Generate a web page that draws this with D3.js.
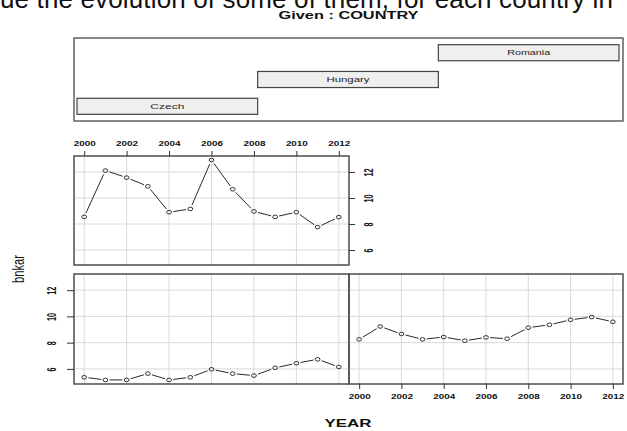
<!DOCTYPE html>
<html>
<head>
<meta charset="utf-8">
<script src="https://cdn.jsdelivr.net/npm/d3@7"></script>
<style>
  html, body { margin: 0; padding: 0; background: #fff; }
  svg { display: block; }
  text { font-family: "Liberation Sans", Arial, sans-serif; }
</style>
</head>
<body>
<svg id="chart" width="627" height="431"></svg>
<script>
// Conditioning plot of bnkar against YEAR, given COUNTRY
const years = [2000, 2001, 2002, 2003, 2004, 2005, 2006, 2007, 2008, 2009, 2010, 2011, 2012];
const countries = ["Czech", "Hungary", "Romania"];
const czech   = [5.36, 5.16, 5.16, 5.64, 5.16, 5.36, 5.97, 5.64, 5.49, 6.08, 6.43, 6.73, 6.15];
const hungary = [8.25, 9.23, 8.66, 8.25, 8.43, 8.15, 8.40, 8.30, 9.14, 9.36, 9.74, 9.95, 9.59];
const romania = [8.55, 12.11, 11.57, 10.90, 8.91, 9.16, 12.92, 10.67, 8.97, 8.55, 8.91, 7.76, 8.53];
const xTicks = [2000, 2002, 2004, 2006, 2008, 2010, 2012];
const yTicks = [6, 8, 10, 12];

const series = [czech, hungary, romania];

const svg = d3.select("#chart");

// ---- page caption line (partly above the viewport) ----
svg.append("text")
  .attr("x", 0).attr("y", 7.5)
  .attr("font-size", 26).attr("fill", "#111")
  .attr("textLength", 613).attr("lengthAdjust", "spacing")
  .text("ue the evolution of some of them, for each country in");

// ---- layout ----
const colX = [[74, 349], [349, 623]];
const rowY = [[274, 384], [156, 265]];       // bottom row first, as coplot fills
const cells = [ {c: 0, r: 0}, {c: 1, r: 0}, {c: 0, r: 1} ];
const given = {x0: 74, x1: 623, y0: 38, y1: 121};

// shared scales domains (R-style 4% extension)
const allVals = series.flat();
const [vmin, vmax] = d3.extent(allVals);
const vpad = (vmax - vmin) * 0.04;
const [ymin0, ymax0] = d3.extent(years);
const xpad = (ymax0 - ymin0) * 0.04;

// ---- "Given" panel ----
svg.append("text")
  .attr("x", (given.x0 + given.x1) / 2).attr("y", 19)
  .attr("text-anchor", "middle").attr("font-size", 10).attr("font-weight", "bold")
  .attr("fill", "#111")
  .attr("textLength", 140).attr("lengthAdjust", "spacingAndGlyphs")
  .text("Given : COUNTRY");

svg.append("rect")
  .attr("x", given.x0).attr("y", given.y0)
  .attr("width", given.x1 - given.x0).attr("height", given.y1 - given.y0)
  .attr("fill", "none").attr("stroke", "#555").attr("stroke-width", 1.4);

const gx = d3.scaleLinear().domain([0.5, countries.length + 0.5]).range([77, 619]);
const gy = d3.scaleBand().domain(countries.slice().reverse()).range([given.y0 + 4, given.y1 - 4]).paddingInner(0.4).paddingOuter(0.1);
const labelWidths = {Czech: 34, Hungary: 43, Romania: 43};

const bars = svg.append("g").selectAll("g").data(countries).join("g");
bars.append("rect")
  .attr("x", (d, i) => gx(i + 0.5))
  .attr("width", (d, i) => gx(i + 1.5) - gx(i + 0.5))
  .attr("y", d => gy(d))
  .attr("height", gy.bandwidth())
  .attr("fill", "#efefef").attr("stroke", "#444").attr("stroke-width", 1.2);
bars.append("text")
  .attr("x", (d, i) => gx(i + 1))
  .attr("y", d => gy(d) + gy.bandwidth() / 2 + 2.6)
  .attr("text-anchor", "middle").attr("font-size", 7.2).attr("fill", "#222")
  .attr("textLength", d => labelWidths[d]).attr("lengthAdjust", "spacingAndGlyphs")
  .text(d => d);

// ---- panels ----
function styleXAxis(g) {
  g.select(".domain").remove();
  g.selectAll(".tick line").attr("stroke", "#333").attr("stroke-width", 1);
  g.selectAll(".tick text")
    .attr("font-size", 7).attr("font-weight", "bold").attr("fill", "#111")
    .attr("font-family", "'Liberation Sans', Arial, sans-serif")
    .attr("textLength", 22).attr("lengthAdjust", "spacingAndGlyphs");
}
function styleYAxis(g, cx) {
  g.select(".domain").remove();
  g.selectAll(".tick line").attr("stroke", "#333").attr("stroke-width", 1);
  g.selectAll(".tick text")
    .attr("x", null).attr("dy", null)
    .attr("text-anchor", "middle").attr("dominant-baseline", "central")
    .attr("font-size", 7.2).attr("font-weight", "bold").attr("fill", "#111")
    .attr("font-family", "'Liberation Sans', Arial, sans-serif")
    .attr("transform", `translate(${cx},0) scale(1.8,1) rotate(-90)`);
}

cells.forEach((cell, i) => {
  const [x0, x1] = colX[cell.c];
  const [y0, y1] = rowY[cell.r];
  const x = d3.scaleLinear().domain([ymin0 - xpad, ymax0 + xpad]).range([x0, x1]);
  const y = d3.scaleLinear().domain([vmin - vpad, vmax + vpad]).range([y1, y0]);
  const vals = series[i];
  const g = svg.append("g");

  // grid
  g.append("g").selectAll("line").data(xTicks).join("line")
    .attr("x1", d => x(d)).attr("x2", d => x(d)).attr("y1", y0).attr("y2", y1)
    .attr("stroke", "#d9d9d9").attr("stroke-width", 1);
  g.append("g").selectAll("line").data(yTicks).join("line")
    .attr("x1", x0).attr("x2", x1).attr("y1", d => y(d)).attr("y2", d => y(d))
    .attr("stroke", "#d9d9d9").attr("stroke-width", 1);

  // line segments with gaps around the points (type = "b")
  const pts = years.map((yr, k) => [x(yr), y(vals[k])]);
  const gap = 4.2;
  const segs = [];
  for (let k = 0; k < pts.length - 1; k++) {
    const [ax, ay] = pts[k], [bx, by] = pts[k + 1];
    const dx = bx - ax, dy = by - ay, len = Math.hypot(dx, dy);
    if (len > 2 * gap) {
      const ux = dx / len, uy = dy / len;
      segs.push([ax + ux * gap, ay + uy * gap, bx - ux * gap, by - uy * gap]);
    }
  }
  g.append("g").selectAll("line").data(segs).join("line")
    .attr("x1", d => d[0]).attr("y1", d => d[1]).attr("x2", d => d[2]).attr("y2", d => d[3])
    .attr("stroke", "#2a2a2a").attr("stroke-width", 1);

  g.append("g").selectAll("ellipse").data(vals).join("ellipse")
    .attr("cx", (d, k) => x(years[k])).attr("cy", d => y(d))
    .attr("rx", 2.4).attr("ry", 1.8)
    .attr("fill", "none").attr("stroke", "#333").attr("stroke-width", 1);

  // frame
  g.append("rect")
    .attr("x", x0).attr("y", y0).attr("width", x1 - x0).attr("height", y1 - y0)
    .attr("fill", "none").attr("stroke", "#4d4d4d").attr("stroke-width", 1.5);

  // axes
  const fmt = d3.format("d");
  if (cell.r === 1) {
    g.append("g").attr("transform", `translate(0,${y0})`)
      .call(d3.axisTop(x).tickValues(xTicks).tickFormat(fmt).tickSize(5).tickPadding(5))
      .call(styleXAxis);
    g.append("g").attr("transform", `translate(${x1},0)`)
      .call(d3.axisRight(y).tickValues(yTicks).tickSize(6))
      .call(a => styleYAxis(a, 20));
  } else if (cell.c === 1) {
    g.append("g").attr("transform", `translate(0,${y1})`)
      .call(d3.axisBottom(x).tickValues(xTicks).tickFormat(fmt).tickSize(5).tickPadding(5))
      .call(styleXAxis);
  } else {
    g.append("g").attr("transform", `translate(${x0},0)`)
      .call(d3.axisLeft(y).tickValues(yTicks).tickSize(7))
      .call(a => styleYAxis(a, -22));
  }
});

// ---- axis titles ----
svg.append("text")
  .attr("x", 348).attr("y", 427)
  .attr("text-anchor", "middle").attr("font-size", 11).attr("font-weight", "bold")
  .attr("fill", "#111")
  .attr("textLength", 47).attr("lengthAdjust", "spacingAndGlyphs")
  .text("YEAR");

svg.append("text")
  .attr("transform", "translate(18,269) scale(1.45,1) rotate(-90)")
  .attr("text-anchor", "middle").attr("dominant-baseline", "central")
  .attr("font-size", 11.2).attr("fill", "#111")
  .text("bnkar");
</script>
</body>
</html>
